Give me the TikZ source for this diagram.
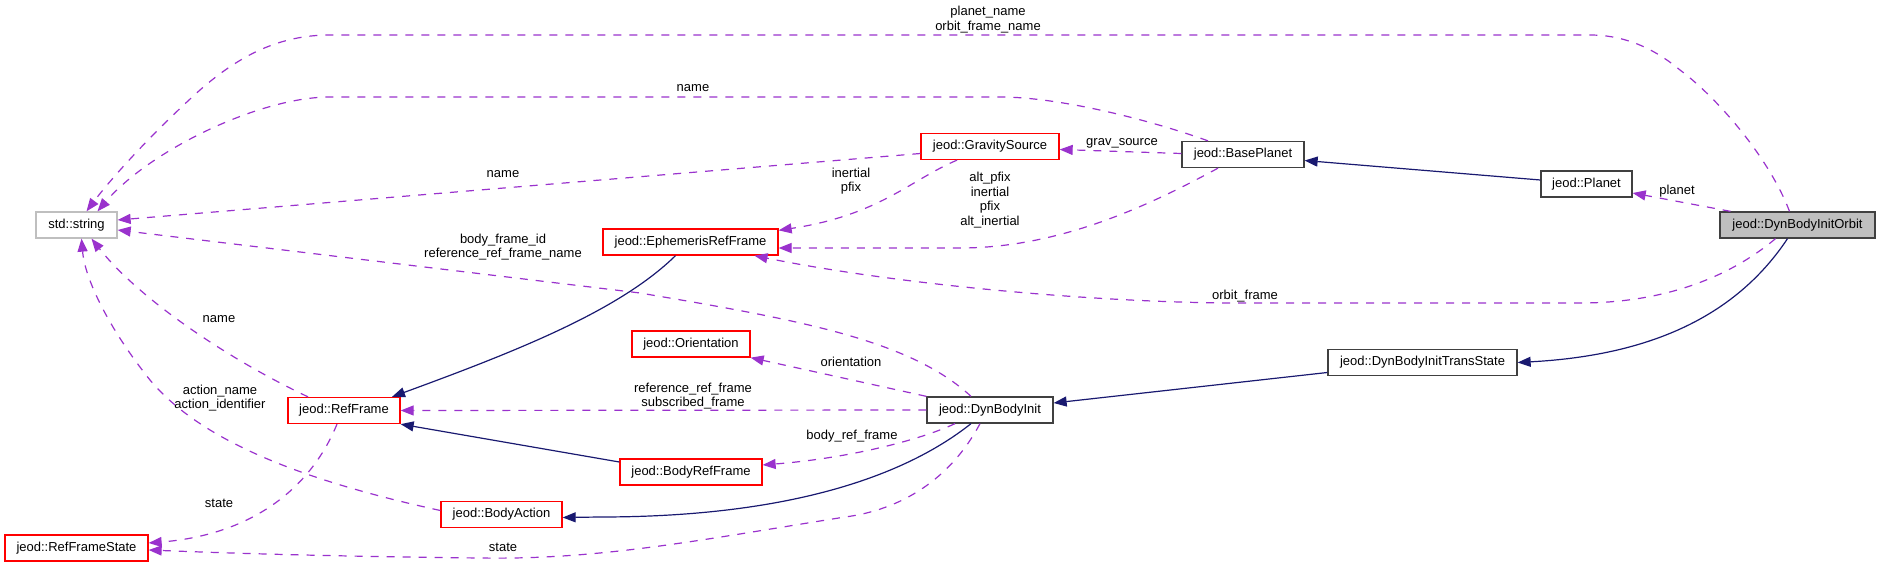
\documentclass[tikz,border=0pt]{standalone}
\usepackage{fontspec}
\setmainfont{Liberation Sans}
\usetikzlibrary{arrows.meta}
\definecolor{edgeuse}{HTML}{9A32CD}
\definecolor{edgeinh}{HTML}{191970}
\definecolor{boxred}{HTML}{FF0000}
\definecolor{boxblack}{HTML}{404040}
\definecolor{boxgray}{HTML}{BFBFBF}
\begin{document}
\begin{tikzpicture}[x=1pt,y=-1pt,
  font=\fontsize{13}{14.5}\selectfont,
  cls/.style={draw=boxblack, rectangle, line width=1.3pt, minimum height=26pt, inner sep=0pt, fill=white},
  redcls/.style={cls, draw=boxred},
  graycls/.style={cls, draw=boxgray},
  uses/.style={draw=edgeuse, line width=1.2pt, dash pattern=on 8pt off 8pt, -{Triangle[length=13pt,width=10pt]}},
  inh/.style={draw=edgeinh, line width=1.2pt, -{Triangle[length=13pt,width=10pt]}},
  lbl/.style={inner sep=0pt, align=center}]
\useasboundingbox (0,0) rectangle (1880,567);
% classes
\node[graycls, minimum width=81pt] (str) at (76.5,225) {std::string};
\node[redcls, minimum width=175pt] (eph) at (690.5,242) {jeod::EphemerisRefFrame};
\node[redcls, minimum width=138pt] (grav) at (990,146.5) {jeod::GravitySource};
\node[cls, minimum width=122pt] (base) at (1243,154.5) {jeod::BasePlanet};
\node[cls, minimum width=91pt] (planet) at (1586.5,184) {jeod::Planet};
\node[cls, fill=boxgray, minimum width=155pt] (orbit) at (1797.5,225) {jeod::DynBodyInitOrbit};
\node[cls, minimum width=189pt] (trans) at (1422.5,362.5) {jeod::DynBodyInitTransState};
\node[cls, minimum width=126pt] (dbi) at (990,410) {jeod::DynBodyInit};
\node[redcls, minimum width=118pt] (orient) at (691,344) {jeod::Orientation};
\node[redcls, minimum width=142pt] (brf) at (691,472) {jeod::BodyRefFrame};
\node[redcls, minimum width=112pt] (rf) at (344,410.5) {jeod::RefFrame};
\node[redcls, minimum width=121pt] (ba) at (501.5,514.5) {jeod::BodyAction};
\node[redcls, minimum width=143pt] (rfs) at (76.5,548) {jeod::RefFrameState};
% edges
\draw[uses] ([xshift=-8pt]orbit.north) .. controls (1770,160) and (1720,100) .. (1680,70)
  .. controls (1650,45) and (1620,35) .. (1590,35) -- (330,35)
  .. controls (280,35) and (240,55) .. (200,90) .. controls (150,135) and (110,180) .. ([xshift=10pt]str.north);
\draw[uses] ([xshift=-35pt]base.north) .. controls (1150,120) and (1060,97) .. (1000,97) -- (330,97)
  .. controls (260,97) and (150,150) .. ([xshift=21pt]str.north);
\draw[uses] ([yshift=-7pt]grav.west) -- ([yshift=5pt]str.east);
\draw[uses] ([xshift=-33pt]grav.south) .. controls (910,180) and (880,215) .. ([yshift=-2pt]eph.north east);
\draw[uses] ([yshift=1pt]base.west) -- ([yshift=-3pt]grav.east);
\draw[uses] ([xshift=-25pt]base.south) .. controls (1150,205) and (1060,248) .. (960,248) -- ([yshift=-6pt]eph.east);
\draw[inh] ([yshift=4pt]planet.west) -- ([yshift=-6pt]base.east);
\draw[uses] ([xshift=-67pt]orbit.north) -- ([yshift=-9pt]planet.east);
\draw[uses] ([xshift=-22pt]orbit.south) .. controls (1720,285) and (1650,303) .. (1580,303) -- (1240,303)
  .. controls (1100,303) and (900,285) .. ([xshift=64pt]eph.south);
\draw[uses] ([xshift=-19pt]dbi.north) .. controls (910,340) and (800,320) .. (640,293) -- ([yshift=-5pt]str.east);
\draw[inh] ([xshift=-15pt]eph.south) .. controls (620,310) and (520,350) .. ([xshift=48pt]rf.north);
\draw[uses] (dbi.north west) -- (orient.south east);
\draw[uses] (dbi.west) -- (rf.east);
\draw[uses] ([xshift=-35pt]dbi.south) .. controls (920,440) and (850,458) .. ([yshift=7pt]brf.east);
\draw[inh] ([yshift=10pt]brf.west) -- (rf.south east);
\draw[inh] ([xshift=-19pt]dbi.south) .. controls (900,480) and (780,517) .. (600,517) -- ([yshift=-3pt]ba.east);
\draw[uses] ([xshift=-10pt]dbi.south) .. controls (950,480) and (900,510) .. (845,517)
  .. controls (700,540) and (600,560) .. (480,558) .. controls (300,556) and (200,552) .. ([yshift=-2pt]rfs.east);
\draw[uses] ([xshift=-36pt]rf.north) .. controls (230,360) and (140,300) .. ([xshift=15pt]str.south);
\draw[uses] ([yshift=4pt]ba.west) .. controls (300,480) and (200,440) .. (150,380)
  .. controls (110,330) and (85,280) .. ([xshift=5pt]str.south);
\draw[uses] ([xshift=-7pt]rf.south) .. controls (310,490) and (250,535) .. ([yshift=5pt]rfs.east);
\draw[inh] ([yshift=-10pt]trans.west) -- ([yshift=7pt]dbi.east);
\draw[inh] ([xshift=-10pt]orbit.south) .. controls (1740,310) and (1660,355) .. (trans.east);
% labels
\node[lbl] (l1) at (988,19.5) {planet\_name\\orbit\_frame\_name};
\node[lbl] (l2) at (693,88) {name};
\node[lbl] (l3) at (503,174) {name};
\node[lbl] (l4) at (851,181) {inertial\\pfix};
\node[lbl] (l5) at (1122,143) {grav\_source};
\node[lbl] (l6) at (990,200) {alt\_pfix\\inertial\\pfix\\alt\_inertial};
\node[lbl] (l7) at (1677,191) {planet};
\node[lbl] (l8) at (1245,296) {orbit\_frame};
\node[lbl] (l9) at (503,247) {body\_frame\_id\\reference\_ref\_frame\_name};
\node[lbl] (l10) at (851,362) {orientation};
\node[lbl] (l11) at (693,396) {reference\_ref\_frame\\subscribed\_frame};
\node[lbl] (l12) at (852,436) {body\_ref\_frame};
\node[lbl] (l13) at (219,319) {name};
\node[lbl] (l14) at (220,398) {action\_name\\action\_identifier};
\node[lbl] (l15) at (219,503) {state};
\node[lbl] (l16) at (503,547) {state};
\end{tikzpicture}
\end{document}
